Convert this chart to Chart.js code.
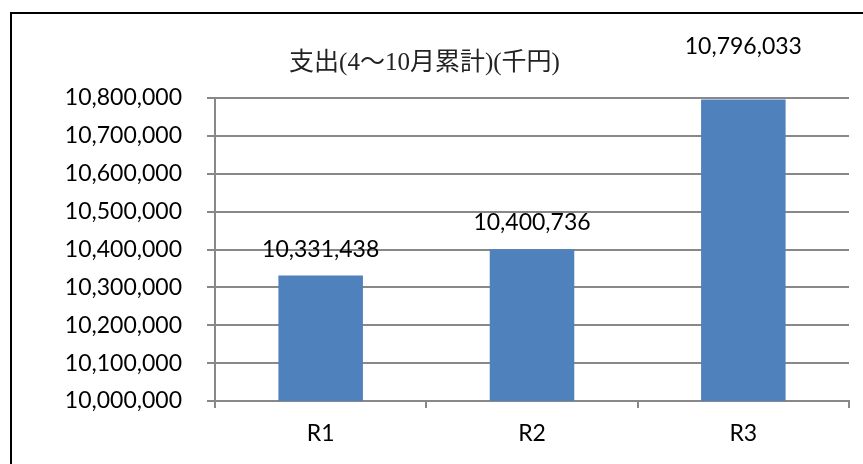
<!DOCTYPE html>
<html>
<head>
<meta charset="utf-8">
<script src="https://cdn.jsdelivr.net/npm/chart.js@4/dist/chart.umd.min.js"></script>
<style>
  html, body { margin: 0; padding: 0; background: #fff; overflow: hidden; }
  #wrap { width: 863px; height: 464px; position: relative; }
</style>
</head>
<body>
<div id="wrap"><canvas id="c" width="863" height="464"></canvas></div>
<script>
const categories = ['R1', 'R2', 'R3'];
const expenditure = [10331438, 10400736, 10796033];
const yMin = 10000000;
const yMax = 10800000;
const yStep = 100000;
const chartTitle = '支出(4～10月累計)(千円)';
const labelLift = [26, 27, 53];

const fmt = v => v.toLocaleString('en-US');
const tickFont = { family: 'Lato, "Open Sans", sans-serif', size: 23 };

const framePlugin = {
  id: 'frame',
  beforeDraw(chart) {
    const ctx = chart.ctx;
    ctx.save();
    ctx.fillStyle = '#fff';
    ctx.fillRect(0, 0, chart.width, chart.height);
    ctx.strokeStyle = '#000';
    ctx.lineWidth = 2;
    ctx.strokeRect(11, 13, chart.width + 20, chart.height + 20);
    ctx.restore();
  }
};

const valueLabels = {
  id: 'valueLabels',
  afterDatasetsDraw(chart) {
    const ctx = chart.ctx;
    const meta = chart.getDatasetMeta(0);
    ctx.save();
    ctx.font = `${tickFont.size}px ${tickFont.family}`;
    ctx.fillStyle = '#000';
    ctx.textAlign = 'center';
    ctx.textBaseline = 'middle';
    meta.data.forEach((bar, i) => {
      ctx.fillText(fmt(expenditure[i]), bar.x, bar.y - labelLift[i]);
    });
    ctx.restore();
  }
};

new Chart(document.getElementById('c'), {
  type: 'bar',
  data: {
    labels: categories,
    datasets: [{
      data: expenditure,
      backgroundColor: '#4F81BD',
      borderWidth: 0,
      barPercentage: 0.8,
      categoryPercentage: 0.5
    }]
  },
  options: {
    responsive: false,
    animation: false,
    devicePixelRatio: 1,
    layout: { padding: { left: 0, right: 14, top: 0, bottom: 0 } },
    plugins: {
      legend: { display: false },
      tooltip: { enabled: false },
      title: {
        display: true,
        text: chartTitle,
        color: '#222',
        font: { family: '"Liberation Serif", "Noto Sans CJK JP", serif', size: 25, weight: 'normal', lineHeight: 1.2 },
        padding: { top: 48, bottom: 20 }
      }
    },
    scales: {
      x: {
        grid: {
          display: true,
          drawOnChartArea: false,
          drawTicks: true,
          tickLength: 7,
          color: '#888',
          lineWidth: 2,
          offset: true
        },
        border: { display: true, color: '#888', width: 2 },
        ticks: { color: '#000', font: tickFont, padding: 12 },
        afterFit(scale) { scale.height = 63; }
      },
      y: {
        min: yMin,
        max: yMax,
        ticks: {
          stepSize: yStep,
          color: '#000',
          font: tickFont,
          padding: 25,
          callback: v => fmt(v)
        },
        grid: { color: '#888', lineWidth: 2, tickLength: 8 },
        border: { display: true, color: '#888', width: 2 },
        afterFit(scale) { scale.width = 215; }
      }
    }
  },
  plugins: [framePlugin, valueLabels]
});
</script>
</body>
</html>
